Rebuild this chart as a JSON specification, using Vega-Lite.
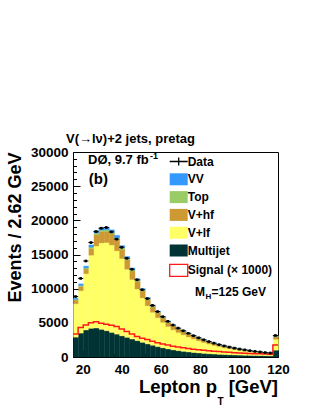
{
  "$schema": "https://vega.github.io/schema/vega-lite/v6.json",
  "width": 205,
  "height": 205,
  "autosize": {"type": "none"},
  "padding": {"left": 73, "top": 152, "right": 38, "bottom": 52},
  "background": "white",
  "title": {"text": "V(→lν)+2 jets, pretag", "anchor": "start", "frame": "group", "fontSize": 13, "font": "Liberation Sans", "fontWeight": "bold", "color": "#000", "dx": -7, "offset": -1},
  "config": {
    "view": {"stroke": "#000", "strokeWidth": 1},
    "font": "Liberation Sans",
    "axis": {"domainColor": "#000", "tickColor": "#000", "labelColor": "#000", "titleColor": "#000", "labelFont": "Liberation Sans", "titleFont": "Liberation Sans", "labelFontWeight": "bold", "titleFontWeight": "bold", "grid": false, "labelFontSize": 13.5, "labelFlush": false, "labelOverlap": false}
  },
  "resolve": {"axis": {"x": "independent", "y": "independent"}},
  "datasets": {
    "comps": [
      {"comp": "mj", "name": "Multijet", "ord": 0},
      {"comp": "lf", "name": "V+lf", "ord": 1},
      {"comp": "hf", "name": "V+hf", "ord": 2},
      {"comp": "top", "name": "Top", "ord": 3},
      {"comp": "vv", "name": "VV", "ord": 4}
    ],
    "bins": [
      {"lo": 15, "hi": 17.625, "c": 16.31, "mj": 2900, "lf": 4900, "hf": 525, "top": 103, "vv": 172, "data": 8850, "err": 94, "sig": 3350},
      {"lo": 17.625, "hi": 20.25, "c": 18.94, "mj": 3500, "lf": 6200, "hf": 658, "top": 128, "vv": 214, "data": 11500, "err": 107, "sig": 4300},
      {"lo": 20.25, "hi": 22.875, "c": 21.56, "mj": 3950, "lf": 8250, "hf": 674, "top": 160, "vv": 266, "data": 14050, "err": 119, "sig": 4700},
      {"lo": 22.875, "hi": 25.5, "c": 24.19, "mj": 4200, "lf": 10700, "hf": 975, "top": 197, "vv": 328, "data": 16750, "err": 129, "sig": 5000},
      {"lo": 25.5, "hi": 28.125, "c": 26.81, "mj": 4250, "lf": 12000, "hf": 1658, "top": 222, "vv": 370, "data": 18350, "err": 135, "sig": 5150},
      {"lo": 28.125, "hi": 30.75, "c": 29.44, "mj": 4050, "lf": 12650, "hf": 1644, "top": 227, "vv": 379, "data": 18850, "err": 137, "sig": 4950},
      {"lo": 30.75, "hi": 33.375, "c": 32.06, "mj": 3850, "lf": 12900, "hf": 1642, "top": 228, "vv": 380, "data": 18950, "err": 138, "sig": 4800},
      {"lo": 33.375, "hi": 36, "c": 34.69, "mj": 3600, "lf": 12800, "hf": 1605, "top": 223, "vv": 372, "data": 18300, "err": 135, "sig": 4650},
      {"lo": 36, "hi": 38.625, "c": 37.31, "mj": 3350, "lf": 12200, "hf": 1680, "top": 214, "vv": 356, "data": 17250, "err": 131, "sig": 4450},
      {"lo": 38.625, "hi": 41.25, "c": 39.94, "mj": 3100, "lf": 11300, "hf": 1378, "top": 196, "vv": 326, "data": 16050, "err": 127, "sig": 4100},
      {"lo": 41.25, "hi": 43.875, "c": 42.56, "mj": 2880, "lf": 9970, "hf": 1380, "top": 176, "vv": 294, "data": 14450, "err": 120, "sig": 3750},
      {"lo": 43.875, "hi": 46.5, "c": 45.19, "mj": 2630, "lf": 8720, "hf": 1234, "top": 156, "vv": 260, "data": 12850, "err": 113, "sig": 3350},
      {"lo": 46.5, "hi": 49.125, "c": 47.81, "mj": 2400, "lf": 7550, "hf": 1134, "top": 137, "vv": 229, "data": 11300, "err": 106, "sig": 3000},
      {"lo": 49.125, "hi": 51.75, "c": 50.44, "mj": 2150, "lf": 6500, "hf": 1030, "top": 120, "vv": 200, "data": 9850, "err": 99, "sig": 2750},
      {"lo": 51.75, "hi": 54.375, "c": 53.06, "mj": 1920, "lf": 5580, "hf": 922, "top": 104, "vv": 174, "data": 8550, "err": 92, "sig": 2550},
      {"lo": 54.375, "hi": 57, "c": 55.69, "mj": 1720, "lf": 4830, "hf": 807, "top": 91, "vv": 152, "data": 7550, "err": 87, "sig": 2300},
      {"lo": 57, "hi": 59.625, "c": 58.31, "mj": 1520, "lf": 4230, "hf": 736, "top": 80, "vv": 134, "data": 6650, "err": 82, "sig": 2100},
      {"lo": 59.625, "hi": 62.25, "c": 60.94, "mj": 1340, "lf": 3740, "hf": 680, "top": 71, "vv": 119, "data": 5900, "err": 77, "sig": 1920},
      {"lo": 62.25, "hi": 64.875, "c": 63.56, "mj": 1180, "lf": 3290, "hf": 612, "top": 63, "vv": 105, "data": 5220, "err": 72, "sig": 1760},
      {"lo": 64.875, "hi": 67.5, "c": 66.19, "mj": 1040, "lf": 2940, "hf": 570, "top": 56, "vv": 94, "data": 4680, "err": 68, "sig": 1580},
      {"lo": 67.5, "hi": 70.125, "c": 68.81, "mj": 930, "lf": 2670, "hf": 514, "top": 51, "vv": 85, "data": 4230, "err": 65, "sig": 1450},
      {"lo": 70.125, "hi": 72.75, "c": 71.44, "mj": 830, "lf": 2420, "hf": 477, "top": 46, "vv": 77, "data": 3840, "err": 62, "sig": 1340},
      {"lo": 72.75, "hi": 75.375, "c": 74.06, "mj": 740, "lf": 2190, "hf": 438, "top": 42, "vv": 70, "data": 3470, "err": 59, "sig": 1240},
      {"lo": 75.375, "hi": 78, "c": 76.69, "mj": 660, "lf": 1980, "hf": 389, "top": 38, "vv": 63, "data": 3120, "err": 56, "sig": 1140},
      {"lo": 78, "hi": 80.625, "c": 79.31, "mj": 590, "lf": 1780, "hf": 360, "top": 34, "vv": 56, "data": 2810, "err": 53, "sig": 1050},
      {"lo": 80.625, "hi": 83.25, "c": 81.94, "mj": 530, "lf": 1590, "hf": 329, "top": 30, "vv": 51, "data": 2520, "err": 50, "sig": 970},
      {"lo": 83.25, "hi": 85.875, "c": 84.56, "mj": 475, "lf": 1425, "hf": 298, "top": 27, "vv": 45, "data": 2260, "err": 48, "sig": 900},
      {"lo": 85.875, "hi": 88.5, "c": 87.19, "mj": 430, "lf": 1270, "hf": 265, "top": 24, "vv": 41, "data": 2030, "err": 45, "sig": 840},
      {"lo": 88.5, "hi": 91.125, "c": 89.81, "mj": 390, "lf": 1130, "hf": 242, "top": 22, "vv": 36, "data": 1810, "err": 43, "sig": 790},
      {"lo": 91.125, "hi": 93.75, "c": 92.44, "mj": 355, "lf": 1005, "hf": 217, "top": 20, "vv": 33, "data": 1620, "err": 40, "sig": 740},
      {"lo": 93.75, "hi": 96.375, "c": 95.06, "mj": 325, "lf": 895, "hf": 193, "top": 18, "vv": 29, "data": 1450, "err": 38, "sig": 690},
      {"lo": 96.375, "hi": 99, "c": 97.69, "mj": 300, "lf": 795, "hf": 173, "top": 16, "vv": 26, "data": 1300, "err": 36, "sig": 640},
      {"lo": 99, "hi": 101.625, "c": 100.31, "mj": 275, "lf": 700, "hf": 158, "top": 14, "vv": 23, "data": 1160, "err": 34, "sig": 600},
      {"lo": 101.625, "hi": 104.25, "c": 102.94, "mj": 250, "lf": 615, "hf": 142, "top": 12, "vv": 21, "data": 1040, "err": 32, "sig": 560},
      {"lo": 104.25, "hi": 106.875, "c": 105.56, "mj": 230, "lf": 545, "hf": 125, "top": 11, "vv": 19, "data": 925, "err": 30, "sig": 520},
      {"lo": 106.875, "hi": 109.5, "c": 108.19, "mj": 210, "lf": 480, "hf": 113, "top": 10, "vv": 17, "data": 820, "err": 29, "sig": 490},
      {"lo": 109.5, "hi": 112.125, "c": 110.81, "mj": 195, "lf": 420, "hf": 101, "top": 9, "vv": 15, "data": 735, "err": 27, "sig": 460},
      {"lo": 112.125, "hi": 114.75, "c": 113.44, "mj": 180, "lf": 370, "hf": 89, "top": 8, "vv": 13, "data": 650, "err": 25, "sig": 430},
      {"lo": 114.75, "hi": 117.375, "c": 116.06, "mj": 165, "lf": 325, "hf": 81, "top": 7, "vv": 12, "data": 585, "err": 24, "sig": 400},
      {"lo": 117.375, "hi": 120, "c": 118.69, "mj": 1000, "lf": 1600, "hf": 401, "top": 37, "vv": 62, "data": 3150, "err": 56, "sig": 1750}
    ]
  },
  "layer": [
    {
      "data": {"name": "bins"},
      "transform": [
        {"fold": ["mj", "lf", "hf", "top", "vv"], "as": ["comp", "n"]},
        {"lookup": "comp", "from": {"data": {"name": "comps"}, "key": "comp", "fields": ["name", "ord"]}}
      ],
      "mark": {"type": "bar", "binSpacing": 0, "strokeWidth": 0.4},
      "encoding": {
        "x": {
          "field": "lo", "type": "quantitative", "bin": "binned", "title": null,
          "scale": {"domain": [15, 120], "nice": false, "zero": false},
          "axis": {
            "orient": "bottom",
            "title": null,
            "values": [20, 40, 60, 80, 100, 120],
            "format": "d",
            "labelOverlap": false,
            "labelFlush": false,
            "tickSize": -7,
            "labelPadding": 12
          }
        },
        "x2": {"field": "hi"},
        "y": {
          "field": "n", "type": "quantitative", "stack": "zero", "title": "Events / 2.62 GeV",
          "scale": {"domain": [0, 30000], "nice": false},
          "axis": {
            "orient": "left",
            "title": "Events / 2.62 GeV",
            "titleFontSize": 18,
            "titleAnchor": "end",
            "titlePadding": 6,
            "values": [0, 5000, 10000, 15000, 20000, 25000, 30000],
            "format": "d",
            "labelOverlap": false,
            "labelFlush": false,
            "tickSize": -7,
            "labelPadding": 12
          }
        },
        "color": {
          "field": "name", "type": "nominal",
          "scale": {"domain": ["Data", "VV", "Top", "V+hf", "V+lf", "Multijet", "Signal (× 1000)"], "range": ["#000000", "#3399ff", "#99cc66", "#cc9933", "#ffff66", "#003333", "#ff1a1a"]},
          "legend": {
            "orient": "none", "legendX": 99.7, "legendY": 3.5, "direction": "vertical",
            "title": null, "padding": 0, "rowPadding": 3.8,
            "symbolSize": 324, "symbolType": "M-1,-0.667H1V0.667H-1Z",
            "labelFont": "Liberation Sans", "labelFontSize": 12, "labelFontWeight": "bold", "labelColor": "#000", "labelOffset": 3, "labelLimit": 200,
            "encode": {
              "symbols": {
                "update": {
                  "shape": {"signal": "datum.value === 'Data' ? 'M-1,0H1M0,-0.45V0.45' : 'M-1,-0.667H1V0.667H-1Z'"},
                  "fillOpacity": {"signal": "datum.index === 6 || datum.value === 'Data' ? 0 : 1"},
                  "strokeWidth": {"signal": "datum.index === 6 || datum.value === 'Data' ? 1.3 : 0"},
                  "opacity": {"value": 1}
                }
              }
            }
          }
        },
        "stroke": {
          "field": "name", "type": "nominal",
          "scale": {"domain": ["Data", "VV", "Top", "V+hf", "V+lf", "Multijet", "Signal (× 1000)"], "range": ["#000000", "#3399ff", "#99cc66", "#cc9933", "#ffff66", "#003333", "#ff1a1a"]},
          "legend": null
        },
        "order": {"field": "ord", "type": "quantitative"}
      }
    },
    {
      "data": {"name": "bins"},
      "transform": [{"fold": ["lo", "hi"], "as": ["side", "edge"]}],
      "mark": {"type": "line", "color": "#ff1a1a", "strokeWidth": 1.5, "interpolate": "linear"},
      "encoding": {
        "x": {"field": "edge", "type": "quantitative", "axis": null},
        "y": {"field": "sig", "type": "quantitative", "axis": null},
        "order": [{"field": "edge", "type": "quantitative"}, {"field": "side", "type": "ordinal"}]
      }
    },
    {
      "data": {"name": "bins"},
      "mark": {"type": "rule", "color": "#000", "strokeWidth": 1},
      "encoding": {
        "x": {"field": "lo", "type": "quantitative", "axis": null},
        "x2": {"field": "hi"},
        "y": {"field": "data", "type": "quantitative", "axis": null}
      }
    },
    {
      "data": {"name": "bins"},
      "mark": {"type": "errorbar", "color": "#000", "thickness": 1},
      "encoding": {
        "x": {"field": "c", "type": "quantitative", "axis": null},
        "y": {"field": "data", "type": "quantitative", "axis": null},
        "yError": {"field": "err"}
      }
    },
    {
      "data": {"name": "bins"},
      "mark": {"type": "square", "color": "#000", "size": 7, "opacity": 1, "filled": true},
      "encoding": {
        "x": {"field": "c", "type": "quantitative", "axis": {"orient": "bottom", "title": null, "labels": false, "domain": false, "tickSize": -3.5, "values": [16, 24, 28, 32, 36, 44, 48, 52, 56, 64, 68, 72, 76, 84, 88, 92, 96, 104, 108, 112, 116]}},
        "y": {"field": "data", "type": "quantitative", "axis": {"orient": "left", "title": null, "labels": false, "domain": false, "tickSize": -3.5, "values": [1000, 2000, 3000, 4000, 6000, 7000, 8000, 9000, 11000, 12000, 13000, 14000, 16000, 17000, 18000, 19000, 21000, 22000, 23000, 24000, 26000, 27000, 28000, 29000]}}
      }
    },
    {
      "data": {"values": [{}]},
      "mark": {"type": "text", "align": "left", "baseline": "alphabetic", "fontSize": 13, "fontWeight": "bold", "font": "Liberation Sans", "color": "#000"},
      "encoding": {"x": {"datum": 22.7, "type": "quantitative", "axis": null}, "y": {"datum": 28200, "type": "quantitative", "axis": null}, "text": {"value": "DØ, 9.7 fb"}}
    },
    {
      "data": {"values": [{}]},
      "mark": {"type": "text", "align": "left", "baseline": "alphabetic", "fontSize": 9, "fontWeight": "bold", "font": "Liberation Sans", "color": "#000", "dx": 62, "dy": -5},
      "encoding": {"x": {"datum": 22.7, "type": "quantitative", "axis": null}, "y": {"datum": 28200, "type": "quantitative", "axis": null}, "text": {"value": "-1"}}
    },
    {
      "data": {"values": [{}]},
      "mark": {"type": "text", "align": "left", "baseline": "alphabetic", "fontSize": 15, "fontWeight": "bold", "font": "Liberation Sans", "color": "#000"},
      "encoding": {"x": {"datum": 23.1, "type": "quantitative", "axis": null}, "y": {"datum": 25300, "type": "quantitative", "axis": null}, "text": {"value": "(b)"}}
    },
    {
      "data": {"values": [{}]},
      "mark": {"type": "text", "align": "left", "baseline": "alphabetic", "fontSize": 12, "fontWeight": "bold", "font": "Liberation Sans", "color": "#000"},
      "encoding": {"x": {"datum": 77.5, "type": "quantitative", "axis": null}, "y": {"datum": 8930, "type": "quantitative", "axis": null}, "text": {"value": "M"}}
    },
    {
      "data": {"values": [{}]},
      "mark": {"type": "text", "align": "left", "baseline": "alphabetic", "fontSize": 8, "fontWeight": "bold", "font": "Liberation Sans", "color": "#000", "dx": 10.5, "dy": 3},
      "encoding": {"x": {"datum": 77.5, "type": "quantitative", "axis": null}, "y": {"datum": 8930, "type": "quantitative", "axis": null}, "text": {"value": "H"}}
    },
    {
      "data": {"values": [{}]},
      "mark": {"type": "text", "align": "left", "baseline": "alphabetic", "fontSize": 12, "fontWeight": "bold", "font": "Liberation Sans", "color": "#000", "dx": 16.5},
      "encoding": {"x": {"datum": 77.5, "type": "quantitative", "axis": null}, "y": {"datum": 8930, "type": "quantitative", "axis": null}, "text": {"value": "=125 GeV"}}
    },
    {
      "data": {"values": [{}]},
      "mark": {"type": "text", "align": "right", "baseline": "alphabetic", "fontSize": 18.5, "fontWeight": "bold", "font": "Liberation Sans", "color": "#000"},
      "encoding": {"x": {"datum": 120, "type": "quantitative", "axis": null}, "y": {"datum": -5268, "type": "quantitative", "axis": null}, "text": {"value": "[GeV]"}}
    },
    {
      "data": {"values": [{}]},
      "mark": {"type": "text", "align": "right", "baseline": "alphabetic", "fontSize": 10, "fontWeight": "bold", "font": "Liberation Sans", "color": "#000", "dx": -54.5, "dy": 12},
      "encoding": {"x": {"datum": 120, "type": "quantitative", "axis": null}, "y": {"datum": -5268, "type": "quantitative", "axis": null}, "text": {"value": "T"}}
    },
    {
      "data": {"values": [{}]},
      "mark": {"type": "text", "align": "right", "baseline": "alphabetic", "fontSize": 18.5, "fontWeight": "bold", "font": "Liberation Sans", "color": "#000", "dx": -61},
      "encoding": {"x": {"datum": 120, "type": "quantitative", "axis": null}, "y": {"datum": -5268, "type": "quantitative", "axis": null}, "text": {"value": "Lepton p"}}
    }
  ]
}
